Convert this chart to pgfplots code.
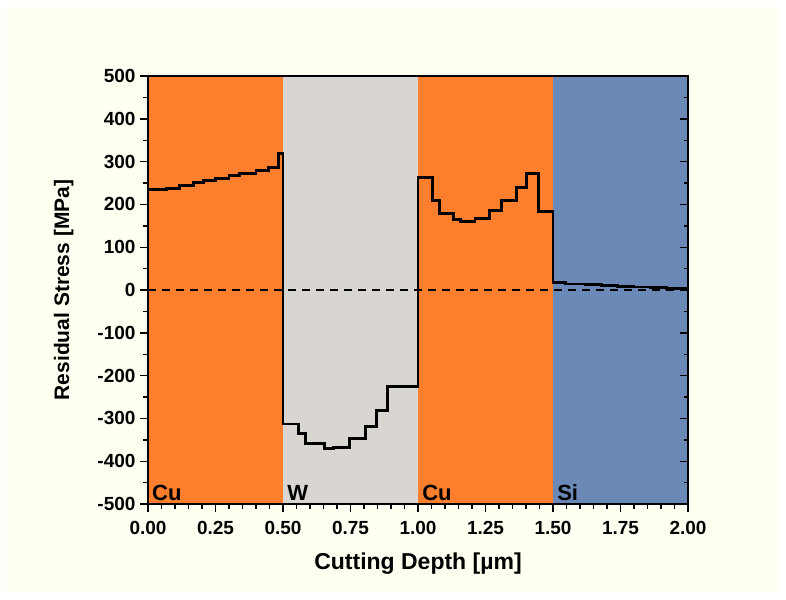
\documentclass[border=0pt]{standalone}
\usepackage{pgfplots}
\pgfplotsset{compat=1.18}
\usepackage{fontspec}
\setmainfont{Liberation Sans}
\definecolor{cuor}{HTML}{FD7F2E}
\definecolor{wgr}{HTML}{D9D6D1}
\definecolor{sibl}{HTML}{6A89B6}
\definecolor{bgc}{HTML}{FFFFF2}
\begin{document}
\begin{tikzpicture}[x=1pt,y=1pt]
\fill[white] (-148,-95) rectangle (638,504);
\fill[bgc] (-141,-88) rectangle (631,497);
\useasboundingbox (-148,-95) rectangle (638,504);
\begin{axis}[
  at={(0,0)}, anchor=south west,
  scale only axis, width=540pt, height=428pt,
  xmin=0, xmax=2, ymin=-500, ymax=500,
  axis on top,
  axis line style={line width=1.6pt},
  xtick={0,0.25,...,2.0}, minor x tick num=4,
  ytick={-500,-400,...,500}, minor y tick num=1,
  xtick pos=bottom, ytick pos=left,
  tick align=outside,
  major tick length=8pt, minor tick length=5pt,
  every tick/.style={black, line width=1.4pt},
  /pgf/number format/assume math mode=true,
  tick label style={font=\fontsize{19}{22}\selectfont\bfseries},
  xticklabel style={yshift=-6pt, /pgf/number format/.cd, fixed, fixed zerofill, precision=2},
  yticklabel style={xshift=-1pt},
  xlabel={Cutting Depth [µm]}, ylabel={Residual Stress [MPa]},
  xlabel style={font=\fontsize{23}{26}\selectfont\bfseries, yshift=-11pt},
  ylabel style={font=\fontsize{21}{26}\selectfont\bfseries, yshift=17pt},
]
\addplot[draw=none, fill=cuor] coordinates {(0,-500)(0,500)(0.5,500)(0.5,-500)} -- cycle;
\addplot[draw=none, fill=wgr] coordinates {(0.5,-500)(0.5,500)(1.0,500)(1.0,-500)} -- cycle;
\addplot[draw=none, fill=cuor] coordinates {(1.0,-500)(1.0,500)(1.5,500)(1.5,-500)} -- cycle;
\addplot[draw=none, fill=sibl] coordinates {(1.5,-500)(1.5,500)(2.0,500)(2.0,-500)} -- cycle;
\addplot[black, dashed, line width=1.1pt, dash pattern=on 8pt off 6pt] coordinates {(0,0)(2,0)};
\addplot[black, line width=2.9pt, const plot mark left, line join=miter] coordinates {
 (0,234) (0.07,238) (0.115,244) (0.167,251) (0.204,256) (0.249,261) (0.30,267) (0.338,273)
 (0.40,280) (0.445,286) (0.483,318)
 (0.5,-313) (0.557,-336) (0.584,-358) (0.653,-370) (0.688,-367) (0.746,-347) (0.807,-318)
 (0.846,-282) (0.886,-226)
 (1.0,263) (1.054,210) (1.081,178) (1.133,164) (1.158,160) (1.211,168) (1.266,185) (1.308,210)
 (1.365,240) (1.403,273) (1.445,183)
 (1.5,17) (1.547,14) (1.621,12) (1.68,10) (1.74,9) (1.80,7) (1.86,6) (1.92,4) (1.97,3) (2.0,3)
};
\node[anchor=south west, font=\fontsize{22}{25}\selectfont\bfseries, inner sep=0pt] at (axis cs:0.015,-492) {Cu};
\node[anchor=south west, font=\fontsize{22}{25}\selectfont\bfseries, inner sep=0pt] at (axis cs:0.515,-492) {W};
\node[anchor=south west, font=\fontsize{22}{25}\selectfont\bfseries, inner sep=0pt] at (axis cs:1.015,-492) {Cu};
\node[anchor=south west, font=\fontsize{22}{25}\selectfont\bfseries, inner sep=0pt] at (axis cs:1.515,-492) {Si};
\end{axis}
\begin{axis}[
  at={(0,0)}, anchor=south west,
  scale only axis, width=540pt, height=428pt,
  xmin=0, xmax=2, ymin=-500, ymax=500,
  axis line style={line width=1.6pt},
  ytick={-500,-400,...,500}, minor y tick num=1,
  ytick pos=right, xtick=\empty, yticklabels={},
  tick align=inside,
  major tick length=8pt, minor tick length=4pt,
  every tick/.style={black, line width=1.4pt},
]
\end{axis}
\end{tikzpicture}
\end{document}
